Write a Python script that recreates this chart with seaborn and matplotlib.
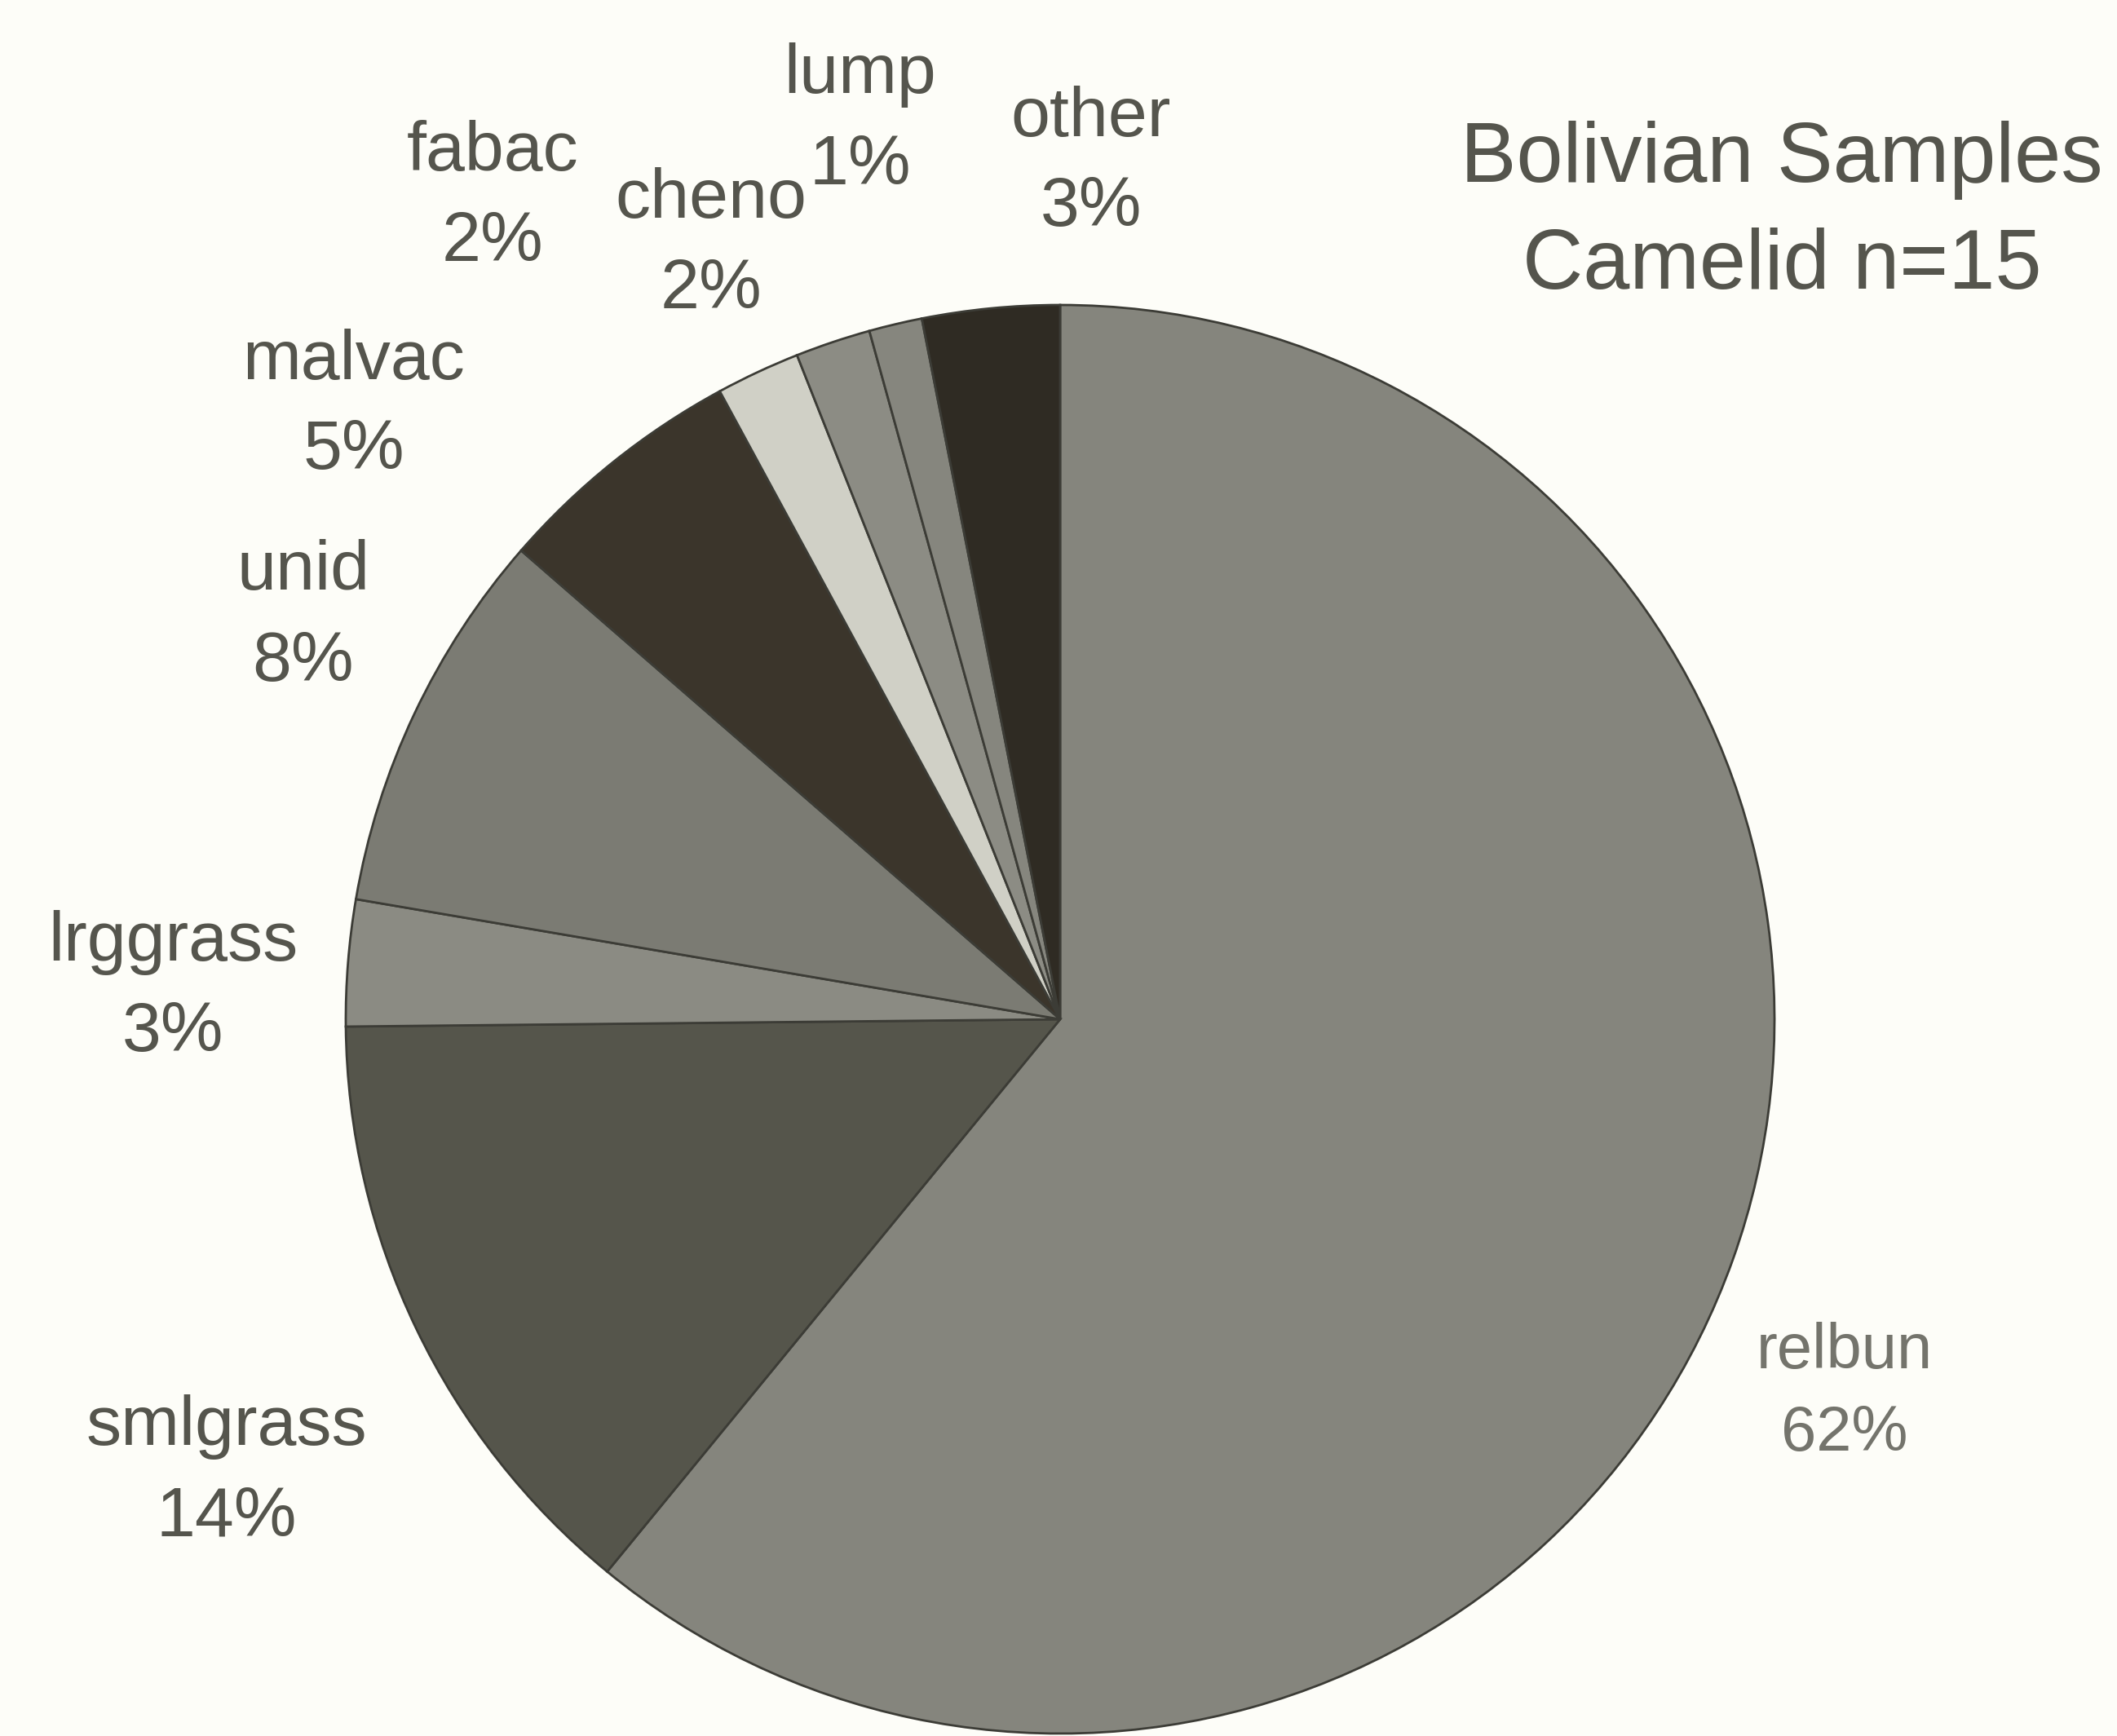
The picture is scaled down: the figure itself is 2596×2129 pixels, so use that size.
import matplotlib
matplotlib.use("Agg")
import matplotlib.pyplot as plt
import seaborn as sns

# Bolivian camelid samples, share of each category
categories = ['relbun', 'smlgrass', 'lrggrass', 'unid', 'malvac',
              'fabac', 'cheno', 'lump', 'other']
shares = [60.9, 13.9, 2.85, 8.7, 5.7, 1.9, 1.7, 1.2, 3.1]
pct_labels = ['62%', '14%', '3%', '8%', '5%', '2%', '2%', '1%', '3%']
title_lines = ['Bolivian Samples', 'Camelid n=15']

slice_colors = ['#85857d', '#55554b', '#8b8b83', '#7b7b73', '#3b352b',
                '#d0d0c6', '#8c8c84', '#86867e', '#2f2b23']

# label centres in figure pixels (x from left, y from top)
label_pos = {
    'relbun': (2262, 1708), 'smlgrass': (278, 1806), 'lrggrass': (212, 1212),
    'unid': (372, 757), 'malvac': (434, 498), 'fabac': (604, 242),
    'cheno': (872, 300), 'lump': (1055, 148), 'other': (1338, 200),
}

sns.set_theme(style="white")
plt.rcParams['font.family'] = ['Liberation Sans', 'DejaVu Sans']

W, H = 2596, 2129
fig = plt.figure(figsize=(W / 100, H / 100), dpi=100, facecolor='#fdfdf8')
ax = fig.add_axes([0, 0, 1, 1])
ax.set_facecolor('#fdfdf8')

ax.pie(shares, colors=slice_colors, startangle=90, counterclock=False,
       center=(1300, H - 1250), radius=876,
       wedgeprops=dict(edgecolor='#3c3c36', linewidth=2))

ax.set_xlim(0, W)
ax.set_ylim(0, H)
ax.set_aspect('auto')
ax.axis('off')

txt_color = '#55554d'
for name, pct in zip(categories, pct_labels):
    x, y = label_pos[name]
    size = 56 if name == 'relbun' else 62
    col = '#74746c' if name == 'relbun' else txt_color
    ax.text(x, H - y, f'{name}\n{pct}', ha='center', va='center',
            fontsize=size, color=col, linespacing=1.5)

ax.text(2185, H - 262, '\n'.join(title_lines), ha='center', va='center',
        fontsize=74, color=txt_color, linespacing=1.45)

fig.savefig('out.png', dpi=100, facecolor=fig.get_facecolor())
